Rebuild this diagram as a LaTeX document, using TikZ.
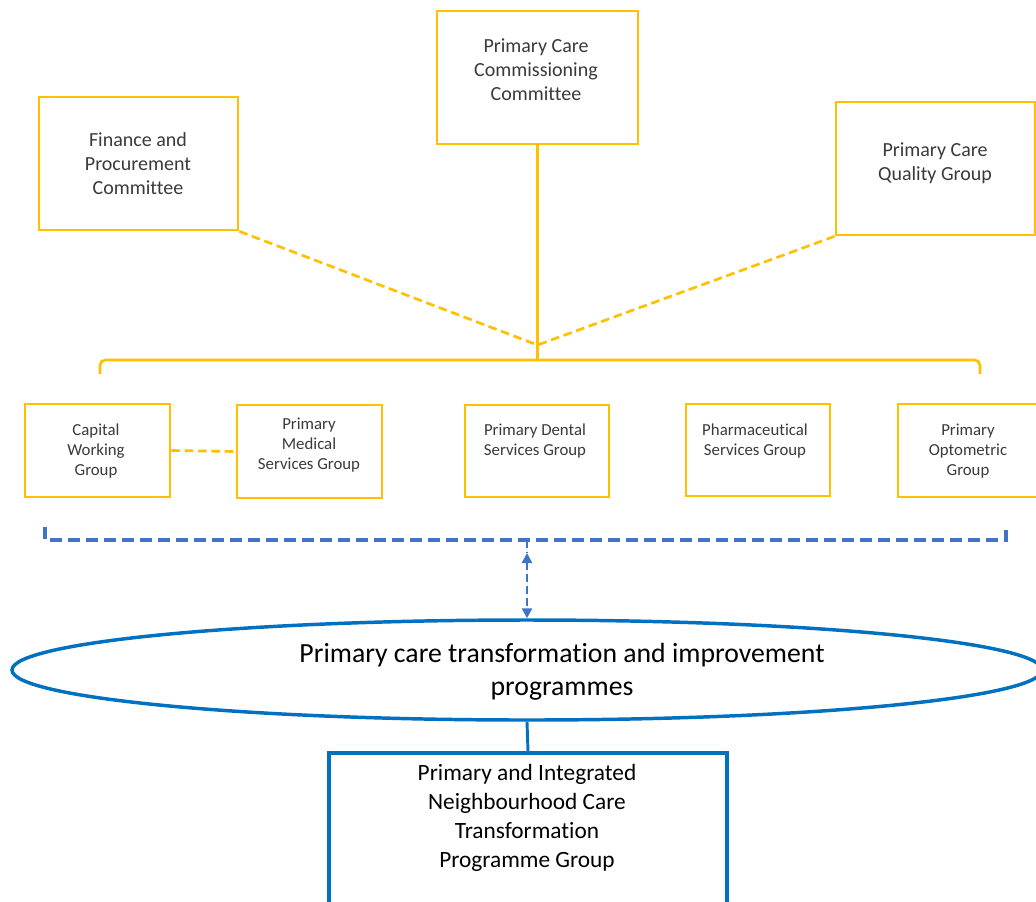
\documentclass[tikz,border=0pt]{standalone}
\usepackage{fontspec}
\setmainfont{Carlito}[Ligatures={NoCommon}]
\usetikzlibrary{shapes.geometric,arrows.meta}
\definecolor{gold}{HTML}{FFC000}
\definecolor{eblue}{HTML}{0070C0}
\definecolor{dblue}{HTML}{4274C6}
\definecolor{txt}{HTML}{3A3A3A}
\begin{document}
\begin{tikzpicture}[x=0.75pt,y=-0.75pt,
  gbox/.style={draw=gold,line width=2pt,inner sep=0pt},
  gline/.style={draw=gold,line width=2pt},
  gdash/.style={gline,dash pattern=on 6.5pt off 3.5pt},
  bdash/.style={draw=dblue,line width=2.6pt,dash pattern=on 9pt off 4.5pt},
  barrow/.style={draw=dblue,fill=dblue,line width=2.2pt,dash pattern=on 6pt off 3pt},
  bigtxt/.style={text=txt,align=center,inner sep=0pt,font=\fontsize{15}{18}\selectfont},
  smalltxt/.style={text=txt,align=center,inner sep=0pt,font=\fontsize{12.6}{15}\selectfont},
]
\fill[white] (0,0) rectangle (1036,901);
\useasboundingbox (0,0) rectangle (1036,901);

% top level boxes
\node[gbox,minimum width=150.75pt,minimum height=99.75pt] (comm) at (537.5,77.5) {};
\node[bigtxt] (commT) at (536,70) {Primary Care\\Commissioning\\Committee};
\node[gbox,minimum width=149.25pt,minimum height=99.75pt] (fin) at (138.5,163.5) {};
\node[bigtxt] (finT) at (138,163.5) {Finance and\\Procurement\\Committee};
\node[gbox,minimum width=149.25pt,minimum height=99.75pt] (qual) at (935.5,168.5) {};
\node[bigtxt] (qualT) at (935,163.5) {Primary Care\\Quality Group};

% groups
\node[gbox,minimum width=108.75pt,minimum height=69.75pt] (cap) at (97.5,450.5) {};
\node[smalltxt] (capT) at (96,451) {Capital\\Working\\Group};
\node[gbox,minimum width=108.75pt,minimum height=69.75pt] (med) at (309.5,451.5) {};
\node[smalltxt] (medT) at (309,445.5) {Primary\\Medical\\Services Group};
\node[gbox,minimum width=108pt,minimum height=69pt] (dent) at (537,451) {};
\node[smalltxt] (dentT) at (535,441.5) {Primary Dental\\Services Group};
\node[gbox,minimum width=108pt,minimum height=69pt] (pharm) at (758,450) {};
\node[smalltxt] (pharmT) at (755,441.5) {Pharmaceutical\\Services Group};
\node[gbox,minimum width=108.75pt,minimum height=69.75pt] (opt) at (970.5,450.5) {};
\node[smalltxt] (optT) at (968,451) {Primary\\Optometric\\Group};

% ellipse
\node[draw=eblue,line width=2.6pt,ellipse,minimum width=772.5pt,minimum height=75pt,inner sep=0pt] (ell) at (527,670) {};
\node[text=black,align=center,inner sep=0pt,font=\fontsize{20.8}{24.75}\selectfont] (ellT) at (562,671.5) {Primary care transformation and improvement\\programmes};

% bottom box
\node[draw=eblue,line width=2.4pt,minimum width=298.5pt,minimum height=155.25pt,inner sep=0pt] (pbox) at (528,856.5) {};
\node[text=black,align=center,inner sep=0pt,font=\fontsize{17.5}{21.75}\selectfont] (pboxT) at (527,817.5) {Primary and Integrated\\Neighbourhood Care\\Transformation\\Programme Group};

% yellow connectors
\coordinate (J) at (537.5,345);
\coordinate (Jb) at (537.5,360);
\coordinate (BL) at (100,374);
\coordinate (BR) at (980,374);
\draw[gline] (comm.south) -- (Jb);
\draw[gdash] (fin.south east) -- (J);
\draw[gdash] (qual.south west) -- (J);
\draw[gline,rounded corners=4pt] (BL) |- (Jb) -| (BR);
\draw[gdash] (cap.east) -- (med.west);

% blue bracket and arrow
\coordinate (KL) at (45,527);
\coordinate (KR) at (1006,525);
\coordinate (K) at (527,540);
\coordinate (Ka) at (527,553);
\draw[bdash] (KL) |- (K) -| (KR);
\draw[barrow] (K) -- (Ka);
\draw[barrow,{Triangle[length=7.5pt,width=7.5pt]}-{Triangle[length=7.5pt,width=7.5pt]}] (Ka) -- (ell.north);
\draw[draw=eblue,line width=2.2pt] (ell.south) -- (pbox.north);
\end{tikzpicture}
\end{document}
